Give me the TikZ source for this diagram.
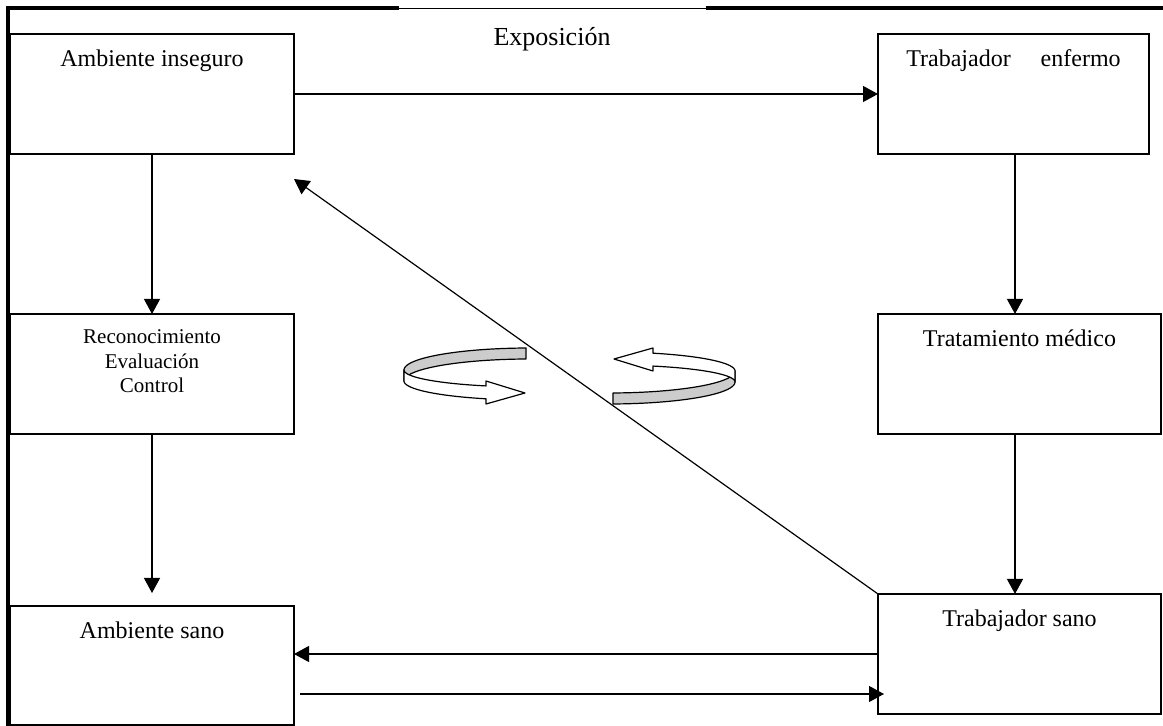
\documentclass[tikz,border=0pt]{standalone}
\usepackage{fontspec}
\setmainfont{Liberation Serif}
\usetikzlibrary{arrows.meta,calc}
\begin{document}
\begin{tikzpicture}[x=0.5pt,y=-0.5pt,
  box/.style={draw, line width=0.6pt, minimum width=142pt, minimum height=60pt, inner sep=0pt, outer sep=0pt},
  lbl/.style={anchor=base, inner sep=0pt, font=\fontsize{12}{14}\selectfont},
  arr/.style={line width=0.6pt, -{Triangle[length=7.5pt,width=8pt]}},
  band/.style={draw, line width=0.6pt, line join=round},
  ribbon/.pic={
    % back half of the ribbon (shaded)
    \filldraw[band, fill=gray!40]
      plot[domain=91.8:180, samples=40, variable=\t] ({126*cos(\t)},{-22*sin(\t)})
      -- plot[domain=180:91.8, samples=40, variable=\t] ({126*cos(\t)},{11-22*sin(\t)})
      -- cycle;
    % front half ending in a hollow arrow head
    \filldraw[band, fill=white]
      plot[domain=180:249.6, samples=40, variable=\t] ({126*cos(\t)},{-17*sin(\t)})
      -- (-44,11) -- (-5,23) -- (-44,34) -- (-44,28.8)
      -- plot[domain=249.6:180, samples=40, variable=\t] ({126*cos(\t)},{11-19*sin(\t)})
      -- cycle;
  },
]
\useasboundingbox (0,0) rectangle (1163,726);

% outer frame (left and top sides only)
\draw[line width=1.6pt] (8,726) -- (8,8) -- (399,8);
\draw[line width=0.4pt] (399,8) -- (706,8);
\draw[line width=1.6pt] (706,8) -- (1163,8);

% boxes
\node[box] (ai) at (152,94) {};
\node[box] (rec) at (152,374) {};
\node[box, minimum height=59.5pt] (as) at (152,665.5) {};
\node[box, minimum width=135.5pt] (te) at (1013.5,94) {};
\node[box, minimum width=141.5pt] (tm) at (1019.5,374) {};
\node[box, minimum width=141.5pt] (ts) at (1019.5,654) {};

% box texts
\node[lbl] (ai-t) at ([yshift=-16.5pt]ai.north) {Ambiente inseguro};
\node[lbl] (te-t) at ([yshift=-16.5pt]te.north) {Trabajador\hspace{15pt}enfermo};
\node[lbl, align=center, font=\fontsize{10.5}{12.25}\selectfont] (rec-t) at ([yshift=-39.5pt]rec.north) {Reconocimiento\\Evaluación\\Control};
\node[lbl] (tm-t) at ([yshift=-16.5pt]tm.north) {Tratamiento médico};
\node[lbl] (as-t) at ([yshift=-16.5pt]as.north) {Ambiente sano};
\node[lbl] (ts-t) at ([yshift=-16.5pt]ts.north) {Trabajador sano};
\node[lbl, font=\fontsize{13}{15}\selectfont] (expo) at (552,46) {Exposición};

% connectors
\draw[arr] (ai.east) -- (te.west);
\draw[arr] (ai.south) -- (rec.north);
\draw[arr, shorten >=6.5pt] (rec.south) -- (as.north);
\coordinate (rx) at (1015,0);
\draw[arr] (te.south -| rx) -- (tm.north -| rx);
\draw[arr] (tm.south -| rx) -- (ts.north -| rx);
\draw[arr] (ts.west) -- (ts.west -| as.east);
\coordinate (low) at (0,694);
\path (as.east |- low) ++(6,0) coordinate (lowL);
\path (ts.west |- low) ++(6,0) coordinate (lowR);
\draw[arr] (lowL) -- (lowR);
\coordinate (dtip) at ([yshift=-12.5pt]ai.south east);
\draw[arr] (ts.north west) -- (dtip);

% circular ribbon arrows
\pic at (530,370) {ribbon};
\pic[rotate=180] at (609,382) {ribbon};
\end{tikzpicture}
\end{document}
